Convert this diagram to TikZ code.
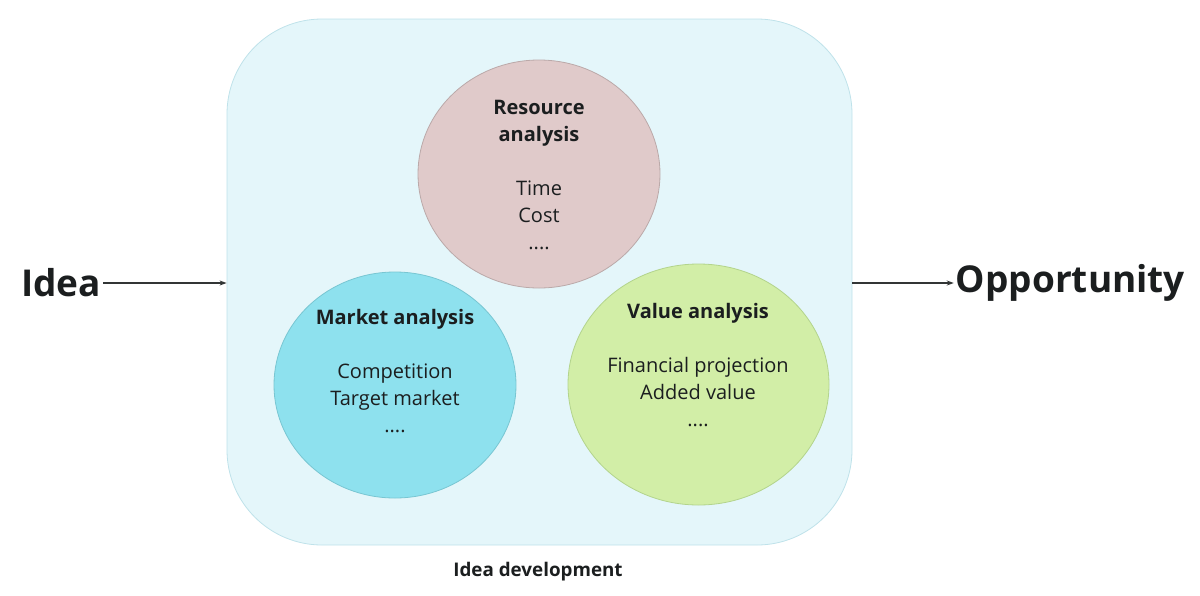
\documentclass[tikz,border=0pt]{standalone}
\usepackage{fontspec}
\setmainfont{Open Sans}
\usetikzlibrary{positioning,arrows.meta,shapes.geometric}

\definecolor{devfill}{HTML}{E4F6FA}
\definecolor{devline}{HTML}{BFE2EA}
\definecolor{resfill}{HTML}{E0CACA}
\definecolor{resline}{HTML}{BBA9A9}
\definecolor{mktfill}{HTML}{8EE1EE}
\definecolor{mktline}{HTML}{78C6D2}
\definecolor{valfill}{HTML}{D2EEA7}
\definecolor{valline}{HTML}{B3D48C}
\definecolor{inkdark}{HTML}{1B1E1F}

\begin{document}
\begin{tikzpicture}[
  x=1pt, y=-1pt,
  % Node Styles
  devbox/.style={rectangle, rounded corners=95pt, draw=devline, fill=devfill, line width=0.8pt, minimum width=625pt, minimum height=526pt, inner sep=0pt},
  areaell/.style={ellipse, draw, line width=0.8pt, inner sep=0pt},
  areatext/.style={align=center, text=inkdark, font=\fontsize{20}{27}\selectfont},
  bigword/.style={text=inkdark, font=\fontsize{37}{44}\selectfont\bfseries, inner sep=2pt},
  caption/.style={text=inkdark, font=\fontsize{18.8}{23}\selectfont\bfseries},
  % Arrow Styles
  flowarrow/.style={-{Stealth[length=7pt, width=5pt]}, line width=1.2pt, draw=inkdark!90},
]
\useasboundingbox (0,0) rectangle (1200,595);

% Idea development frame
\node[devbox] (dev) at (539.5,282) {};
\node[caption] (devlabel) at (538,572) {Idea development};

% Analysis areas
\node[areaell, draw=resline, fill=resfill, minimum width=242pt, minimum height=228pt] (resource) at (539,174) {};
\node[areaell, draw=mktline, fill=mktfill, minimum width=242pt, minimum height=226pt] (market) at (395,385) {};
\node[areaell, draw=valline, fill=valfill, minimum width=261pt, minimum height=241pt] (value) at (698.5,384.5) {};

\node[areatext] (resourcetext) at (539,174.5) {\textbf{Resource}\\\textbf{analysis}\\[27pt]Time\\Cost\\....};
\node[areatext] (markettext) at (395,371) {\textbf{Market analysis}\\[27pt]Competition\\Target market\\....};
\node[areatext] (valuetext) at (698,365) {\textbf{Value analysis}\\[27pt]Financial projection\\Added value\\....};

% Input and output
\node[bigword] (idea) at (61,283) {Idea};
\node[bigword] (opportunity) at (1070.5,283) {Opportunity};

\draw[flowarrow] (idea.east) -- (dev.west |- idea.east);
\draw[flowarrow] (dev.east |- opportunity.west) -- (opportunity.west);

\end{tikzpicture}
\end{document}
